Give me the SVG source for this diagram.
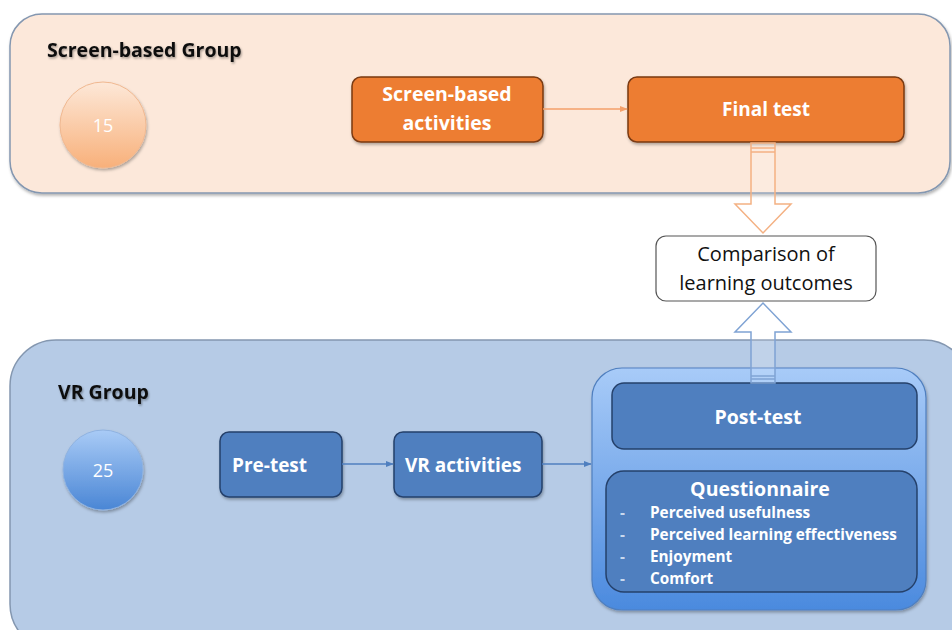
<svg xmlns="http://www.w3.org/2000/svg" width="952" height="630" viewBox="0 0 952 630">
  <defs>
    <style>
      .title { font-family: "Open Sans", "Liberation Sans", sans-serif; font-weight: 700; font-size: 19.5px; fill: #111; }
      .wt { font-family: "Open Sans", "Liberation Sans", sans-serif; font-weight: 700; fill: #fff; }
      .num { font-family: "Open Sans", "Liberation Sans", sans-serif; font-size: 18px; fill: #fff; }
      .dark { font-family: "Open Sans", "Liberation Sans", sans-serif; font-size: 20px; fill: #111; }
      .obox { fill: #ed7d31; stroke: #7a3a12; stroke-width: 1.5; }
      .bbox { fill: #4f7fbf; stroke: #25416b; stroke-width: 1.5; }
      .conn { fill: none; stroke-width: 1.6; }
    </style>
    <linearGradient id="gOrange" x1="0" y1="0" x2="0" y2="1">
      <stop offset="0" stop-color="#fde8d8"/>
      <stop offset="1" stop-color="#f8b07a"/>
    </linearGradient>
    <linearGradient id="gBlue" x1="0" y1="0" x2="0" y2="1">
      <stop offset="0" stop-color="#a9cbf6"/>
      <stop offset="1" stop-color="#4a86d5"/>
    </linearGradient>
    <linearGradient id="gPanel" x1="0" y1="0" x2="0" y2="1">
      <stop offset="0" stop-color="#a8cbf8"/>
      <stop offset="1" stop-color="#4b8ade"/>
    </linearGradient>
    <filter id="shadow" x="-10%" y="-10%" width="130%" height="140%">
      <feDropShadow dx="1" dy="2" stdDeviation="1.5" flood-color="#000" flood-opacity="0.3"/>
    </filter>
    <filter id="tshadow" x="-5%" y="-20%" width="110%" height="150%">
      <feDropShadow dx="1" dy="1.5" stdDeviation="1" flood-color="#000" flood-opacity="0.35"/>
    </filter>
    <marker id="arrO" viewBox="0 0 10 10" refX="9" refY="5" markerWidth="5" markerHeight="5" orient="auto">
      <path d="M0,1 L10,5 L0,9 z" fill="#f4a06a"/>
    </marker>
    <marker id="arrB" viewBox="0 0 10 10" refX="9" refY="5" markerWidth="5" markerHeight="5" orient="auto">
      <path d="M0,1 L10,5 L0,9 z" fill="#4f7fbf"/>
    </marker>
  </defs>

  <rect width="952" height="630" fill="#fff"/>

  <!-- Screen-based group panel -->
  <g id="screen-group">
    <rect x="10" y="14" width="940" height="179" rx="32" fill="#fce8da" stroke="#8497b0" stroke-width="1.5" filter="url(#shadow)"/>
    <text class="title" x="47" y="57" filter="url(#tshadow)">Screen-based Group</text>
  </g>

  <!-- VR group panel -->
  <g id="vr-group">
    <rect x="10" y="340" width="960" height="310" rx="46" fill="#b6cbe6" stroke="#8497b0" stroke-width="1.5"/>
    <text class="title" x="58" y="399" filter="url(#tshadow)">VR Group</text>
  </g>

  <g id="count-15">
    <circle cx="103" cy="125" r="43" fill="url(#gOrange)" stroke="#f0b890" stroke-width="1" filter="url(#shadow)"/>
    <text class="num" x="103" y="132" text-anchor="middle">15</text>
  </g>

  <g id="screen-activities">
    <rect class="obox" x="352" y="77" width="191" height="65" rx="9" filter="url(#shadow)"/>
    <text class="wt" font-size="19.5" x="447" y="101" text-anchor="middle">Screen-based</text>
    <text class="wt" font-size="19.5" x="447" y="130" text-anchor="middle">activities</text>
  </g>

  <g id="final-test">
    <rect class="obox" x="628" y="77" width="276" height="65" rx="9" filter="url(#shadow)"/>
    <text class="wt" font-size="19" x="766" y="116" text-anchor="middle">Final test</text>
  </g>

  <g id="comparison">
    <rect x="656" y="236" width="220" height="65" rx="10" fill="#fff" stroke="#555" stroke-width="1.2"/>
    <text class="dark" x="766" y="261" text-anchor="middle">Comparison of</text>
    <text class="dark" x="766" y="290" text-anchor="middle">learning outcomes</text>
  </g>

  <g id="count-25">
    <circle cx="103" cy="470" r="40" fill="url(#gBlue)" stroke="#8fb2e0" stroke-width="1" filter="url(#shadow)"/>
    <text class="num" x="103" y="477" text-anchor="middle">25</text>
  </g>

  <g id="pre-test">
    <rect class="bbox" x="220" y="432" width="122" height="65" rx="9" filter="url(#shadow)"/>
    <text class="wt" font-size="19" x="232" y="472">Pre-test</text>
  </g>

  <g id="vr-activities">
    <rect class="bbox" x="394" y="432" width="148" height="65" rx="9" filter="url(#shadow)"/>
    <text class="wt" font-size="19" x="405" y="472">VR activities</text>
  </g>

  <g id="assessment">
    <rect x="592" y="368" width="334" height="242" rx="30" fill="url(#gPanel)" stroke="#4f7fbf" stroke-width="1.2" filter="url(#shadow)"/>
    <g id="post-test">
      <rect class="bbox" x="612" y="383" width="305" height="66" rx="12"/>
      <text class="wt" font-size="19.5" x="758" y="424" text-anchor="middle">Post-test</text>
    </g>
    <g id="questionnaire">
      <rect class="bbox" x="606" y="471" width="311" height="121" rx="18"/>
      <text class="wt" font-size="19.5" x="760" y="496" text-anchor="middle">Questionnaire</text>
      <g font-size="15.3" class="wt">
        <text x="620" y="518" fill="#c9d8ee">-</text>
        <text x="650" y="518">Perceived usefulness</text>
        <text x="620" y="540" fill="#c9d8ee">-</text>
        <text x="650" y="540">Perceived learning effectiveness</text>
        <text x="620" y="562" fill="#c9d8ee">-</text>
        <text x="650" y="562">Enjoyment</text>
        <text x="620" y="584" fill="#c9d8ee">-</text>
        <text x="650" y="584">Comfort</text>
      </g>
    </g>
  </g>

  <!-- Connectors -->
  <g id="connectors">
    <line class="conn" x1="543" y1="109" x2="627" y2="109" stroke="#f4a06a" marker-end="url(#arrO)"/>
    <line class="conn" x1="342" y1="464" x2="393" y2="464" stroke="#4f7fbf" marker-end="url(#arrB)"/>
    <line class="conn" x1="542" y1="464" x2="591" y2="464" stroke="#4f7fbf" marker-end="url(#arrB)"/>
    <!-- block arrow: final test down to comparison -->
    <path d="M751,143 L751,204 L735,204 L763,233 L791,204 L775,204 L775,143 Z" fill="#fff" fill-opacity="0.15" stroke="#f4b183" stroke-width="1.5"/>
    <line x1="751" y1="148" x2="775" y2="148" stroke="#f4b183" stroke-width="1.5"/>
    <line x1="751" y1="152" x2="775" y2="152" stroke="#f4b183" stroke-width="1.5"/>
    <!-- block arrow: post-test up to comparison -->
    <path d="M751,383 L751,332 L735,332 L763,303 L791,332 L775,332 L775,383 Z" fill="#fff" fill-opacity="0.15" stroke="#7fa3d4" stroke-width="1.5"/>
    <line x1="751" y1="376" x2="775" y2="376" stroke="#7fa3d4" stroke-width="1.5"/>
    <line x1="751" y1="379" x2="775" y2="379" stroke="#7fa3d4" stroke-width="1.5"/>
  </g>
</svg>
